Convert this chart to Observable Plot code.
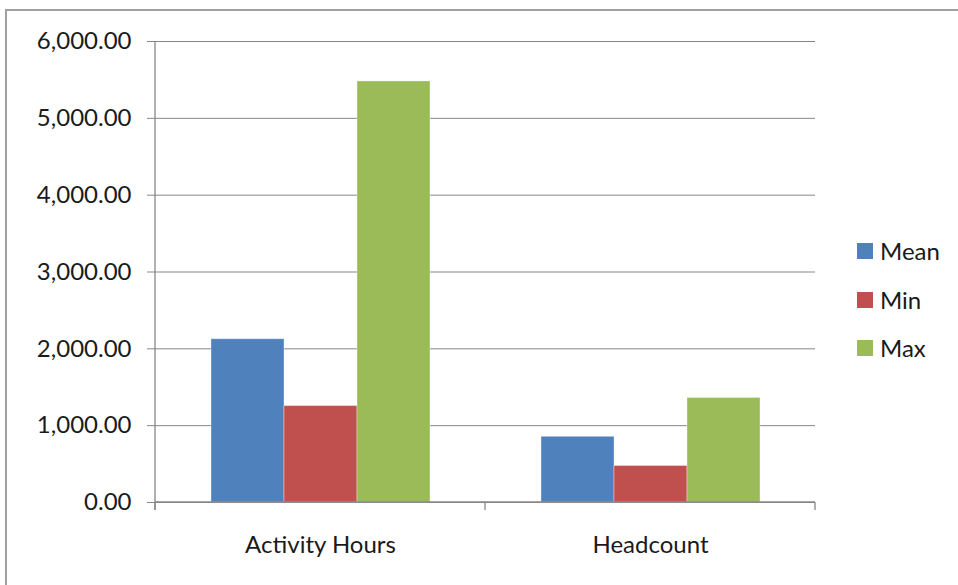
<!DOCTYPE html>
<html>
<head>
<meta charset="utf-8">
<script src="https://cdn.jsdelivr.net/npm/d3@7"></script>
<script src="https://cdn.jsdelivr.net/npm/@observablehq/plot@0.6"></script>
<style>
  html, body { margin: 0; padding: 0; background: #fff; }
  #wrap { position: relative; width: 958px; height: 585px; overflow: hidden; font-family: Lato, "Open Sans", sans-serif; }
  #border { position: absolute; left: 5px; top: 9px; width: 1000px; height: 1000px; border: 2px solid #a0a0a0; box-sizing: border-box; pointer-events: none; }
  #legend { position: absolute; left: 857px; top: 0; font-size: 24px; color: #1a1a1a; }
  .item { position: absolute; left: 0; white-space: nowrap; display: flex; align-items: center; }
  .sw { width: 16px; height: 16px; margin-right: 7px; }
</style>
</head>
<body>
<div id="wrap"><div id="border"></div><div id="legend"></div></div>
<script>
const categories = ["Activity Hours", "Headcount"];
const series = ["Mean", "Min", "Max"];
const meanValues = [2125, 855];
const minValues = [1255, 475];
const maxValues = [5480, 1360];
const colors = ["#4F81BD", "#C0504D", "#9BBB59"];
const yTicks = [0, 1000, 2000, 3000, 4000, 5000, 6000];

const seriesValues = {Mean: meanValues, Min: minValues, Max: maxValues};
const data = [];
categories.forEach((c, i) => series.forEach(s => data.push({category: c, series: s, value: seriesValues[s][i]})));

const fmt = d3.format(",.2f");
const plot = Plot.plot({
  width: 958,
  height: 585,
  marginLeft: 155,
  marginRight: 143,
  marginTop: 41,
  marginBottom: 83,
  style: {fontFamily: "Lato, 'Open Sans', sans-serif", fontSize: "24px", color: "#1a1a1a", background: "transparent"},
  fx: {domain: categories, padding: 0, label: null},
  x: {domain: series, paddingInner: 0, paddingOuter: 0.76, axis: null},
  y: {domain: [0, 6000], label: null},
  color: {domain: series, range: colors},
  marks: [
    Plot.gridY(yTicks, {stroke: "#878787", strokeOpacity: 1}),
    Plot.axisY(yTicks, {tickFormat: fmt, tickSize: 8, tickPadding: 16, stroke: "#878787", label: null}),
    Plot.axisFx({anchor: "bottom", tickSize: 0, tickPadding: 33, label: null}),
    Plot.barY(data, {fx: "category", x: "series", y: "value", fill: "series", stroke: "#ffffff", strokeOpacity: 0.35, strokeWidth: 1})
  ]
});
document.getElementById("wrap").prepend(plot);

// axis lines and category boundary ticks, from the plot's own scales
const svg = d3.select(plot);
const fx = plot.scale("fx");
const y = plot.scale("y");
const y0 = y.apply(0), yTop = y.apply(6000);
const bounds = categories.map(c => fx.apply(c));
const bw = fx.bandwidth !== undefined ? fx.bandwidth : (bounds[1] - bounds[0]);
const xs = bounds.concat([bounds[bounds.length - 1] + bw]);
const left = xs[0], right = xs[xs.length - 1];
const g = svg.append("g").attr("stroke", "#878787").attr("stroke-width", 1.3);
g.append("line").attr("x1", left).attr("x2", left).attr("y1", yTop).attr("y2", y0 + 8);
g.append("line").attr("x1", left).attr("x2", right).attr("y1", y0).attr("y2", y0);
xs.forEach(x => g.append("line").attr("x1", x).attr("x2", x).attr("y1", y0).attr("y2", y0 + 8));

// legend
const legend = document.getElementById("legend");
const legendY = [251, 300, 348];
series.forEach((s, i) => {
  const item = document.createElement("div");
  item.className = "item";
  item.style.top = (legendY[i] - 15) + "px";
  item.innerHTML = `<span class="sw" style="background:${colors[i]}"></span><span>${s}</span>`;
  legend.appendChild(item);
});
</script>
</body>
</html>
